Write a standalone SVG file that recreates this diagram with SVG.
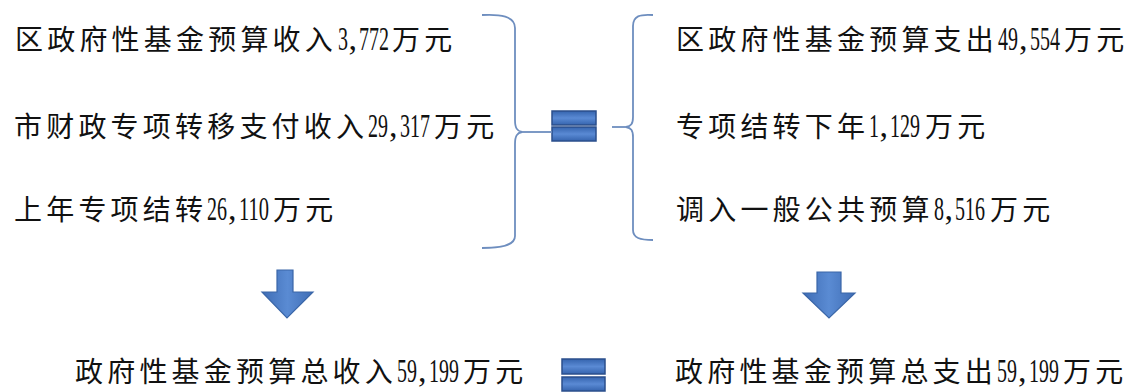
<svg xmlns="http://www.w3.org/2000/svg" width="1137" height="392" viewBox="0 0 1137 392">
<style>
.t{font-family:"Noto Sans CJK SC","Liberation Serif",sans-serif;font-size:28px;letter-spacing:4.2px;fill:#111;}
.n{font-family:"Liberation Serif","Noto Sans CJK SC",serif;font-size:34px;letter-spacing:0;}
.brace{fill:none;stroke:#6E8EBF;stroke-width:1.8;}
.eq{fill:url(#eqg);stroke:#2B4F8C;stroke-width:1.5;}
.arr{fill:url(#arg);stroke:#3A66A8;stroke-width:1.2;}
</style>
<defs>
<linearGradient id="eqg" x1="0" y1="0" x2="0" y2="1">
<stop offset="0" stop-color="#3564AE"/><stop offset="0.5" stop-color="#5A8AD4"/><stop offset="1" stop-color="#3564AE"/>
</linearGradient>
<linearGradient id="arg" x1="0" y1="0" x2="1" y2="0">
<stop offset="0" stop-color="#3F6DB5"/><stop offset="0.5" stop-color="#5A8BD3"/><stop offset="1" stop-color="#3F6DB5"/>
</linearGradient>
</defs>
<rect width="1137" height="392" fill="#fff"/>

<g id="left1"><text class="t" y="50"><tspan x="15">区政府性基金预算收入</tspan><tspan class="n" x="338" textLength="10" lengthAdjust="spacingAndGlyphs">3</tspan><tspan class="n" x="348.5">,</tspan><tspan class="n" x="359" textLength="30" lengthAdjust="spacingAndGlyphs">772</tspan><tspan x="392">万元</tspan></text></g>
<g id="left2"><text class="t" y="137"><tspan x="14">市财政专项转移支付收入</tspan><tspan class="n" x="368" textLength="20" lengthAdjust="spacingAndGlyphs">29</tspan><tspan class="n" x="389">,</tspan><tspan class="n" x="400" textLength="30" lengthAdjust="spacingAndGlyphs">317</tspan><tspan x="434">万元</tspan></text></g>
<g id="left3"><text class="t" y="220"><tspan x="14">上年专项结转</tspan><tspan class="n" x="207" textLength="20" lengthAdjust="spacingAndGlyphs">26</tspan><tspan class="n" x="228">,</tspan><tspan class="n" x="239" textLength="30" lengthAdjust="spacingAndGlyphs">110</tspan><tspan x="273">万元</tspan></text></g>

<g id="right1"><text class="t" y="50"><tspan x="676">区政府性基金预算支出</tspan><tspan class="n" x="998" textLength="20" lengthAdjust="spacingAndGlyphs">49</tspan><tspan class="n" x="1019">,</tspan><tspan class="n" x="1030" textLength="30" lengthAdjust="spacingAndGlyphs">554</tspan><tspan x="1064">万元</tspan></text></g>
<g id="right2"><text class="t" y="137"><tspan x="676">专项结转下年</tspan><tspan class="n" x="869" textLength="10" lengthAdjust="spacingAndGlyphs">1</tspan><tspan class="n" x="879.5">,</tspan><tspan class="n" x="890" textLength="30" lengthAdjust="spacingAndGlyphs">129</tspan><tspan x="925">万元</tspan></text></g>
<g id="right3"><text class="t" y="220"><tspan x="676">调入一般公共预算</tspan><tspan class="n" x="934" textLength="10" lengthAdjust="spacingAndGlyphs">8</tspan><tspan class="n" x="944.5">,</tspan><tspan class="n" x="955" textLength="30" lengthAdjust="spacingAndGlyphs">516</tspan><tspan x="990">万元</tspan></text></g>

<g id="totalIncome"><text class="t" y="382"><tspan x="75">政府性基金预算总收入</tspan><tspan class="n" x="397" textLength="20" lengthAdjust="spacingAndGlyphs">59</tspan><tspan class="n" x="418">,</tspan><tspan class="n" x="429" textLength="30" lengthAdjust="spacingAndGlyphs">199</tspan><tspan x="463">万元</tspan></text></g>
<g id="totalExpense"><text class="t" y="382"><tspan x="675">政府性基金预算总支出</tspan><tspan class="n" x="997" textLength="20" lengthAdjust="spacingAndGlyphs">59</tspan><tspan class="n" x="1018">,</tspan><tspan class="n" x="1029" textLength="30" lengthAdjust="spacingAndGlyphs">199</tspan><tspan x="1063">万元</tspan></text></g>

<g id="equalsTop">
<rect class="eq" x="552" y="111" width="44" height="14"/>
<rect class="eq" x="552" y="127" width="44" height="14"/>
</g>
<g id="equalsBottom">
<rect class="eq" x="562" y="359" width="43" height="15"/>
<rect class="eq" x="562" y="377" width="43" height="14"/>
</g>
<g id="arrowLeft">
<path class="arr" d="M277,270 L293,270 L293,292 L313,292 L287,318 L262,292 L277,292 Z"/>
</g>
<g id="arrowRight">
<path class="arr" d="M817,272 L841,272 L841,293 L855,293 L829,318 L803,293 L817,293 Z"/>
</g>

<g id="connectors">
<path class="brace" d="M482,15 C500,14 515,16 515,28 L515,120 C515,128 517,131 522,132 C517,133 515,136 515,144 L515,236 C515,246 500,248 482,248"/>
<path class="brace" d="M522,132 L552,132"/>
<path class="brace" d="M653,15 C640,14 633,16 633,26 L633,117 C633,124 631,126 626,127 C631,128 633,130 633,137 L633,230 C633,238 640,240 653,240"/>
<path class="brace" d="M612,127 L626,127"/>
</g>
</svg>
